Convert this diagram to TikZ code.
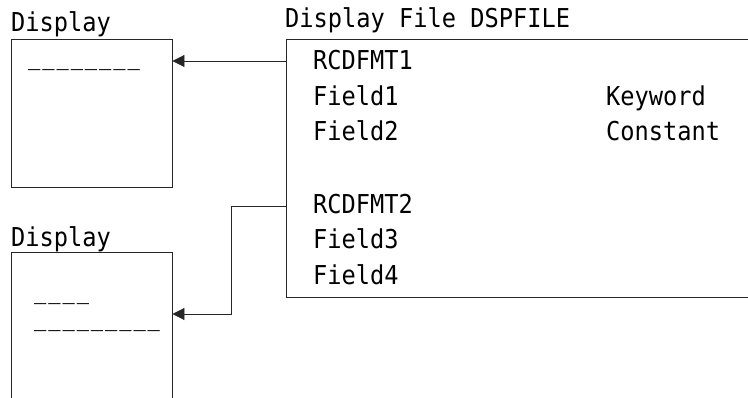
\documentclass[tikz,border=0pt]{standalone}
\usepackage{fontspec}
\newfontfamily\dspfont{DejaVu Sans Mono}[FakeStretch=0.91]
\usetikzlibrary{arrows.meta,positioning}
\newcommand\uscore{\makebox[0.546em][c]{\scalebox{0.86}[1]{\_}}}
\tikzset{
  screen/.style={draw=black!85,line width=0.9pt,rectangle,inner sep=0pt},
  lbl/.style={anchor=base west,inner sep=0pt,font=\dspfont\fontsize{26}{30}\selectfont},
  arr/.style={draw=black!85,line width=0.9pt,-{Triangle[length=12pt,width=12pt]}}
}
\begin{document}
\begin{tikzpicture}[x=1pt,y=-1pt]
\useasboundingbox (0,0) rectangle (748,398);
\clip (0,0) rectangle (748,398);
% screens and the display file
\node[screen,minimum width=161pt,minimum height=148pt] (disp1) at (91.5,113) {};
\node[screen,minimum width=161pt,minimum height=168pt] (disp2) at (91.5,336) {};
\node[screen,minimum width=514pt,minimum height=258pt] (dspfile) at (543,168) {};
% titles
\node[lbl] (t1) at (11,32) {Display};
\node[lbl] (t2) at (11,247) {Display};
\node[lbl] (t3) at (285,28) {Display File DSPFILE};
% fields on the screens
\node[lbl] (u1) at (27,64.5) {\uscore\uscore\uscore\uscore\uscore\uscore\uscore\uscore};
\node[lbl] (u2) at (33,299) {\uscore\uscore\uscore\uscore};
\node[lbl] (u3) at (33,326) {\uscore\uscore\uscore\uscore\uscore\uscore\uscore\uscore\uscore};
% record formats
\node[lbl] (r1) at (313,70) {RCDFMT1};
\node[lbl] (f1) at (313,106) {Field1};
\node[lbl] (f2) at (313,141) {Field2};
\node[lbl] (r2) at (313,214) {RCDFMT2};
\node[lbl] (f3) at (313,249) {Field3};
\node[lbl] (f4) at (313,285) {Field4};
\node[lbl] (k1) at (606,106) {Keyword};
\node[lbl] (k2) at (606,141) {Constant};
% connectors
\coordinate (c1) at (dspfile.west |- 0,61);
\coordinate (c2) at (dspfile.west |- 0,206);
\draw[arr] (c1) -- (c1 -| disp1.east);
\draw[arr] (c2) -- (231,206) |- (disp2.east |- 0,314);
\end{tikzpicture}
\end{document}
